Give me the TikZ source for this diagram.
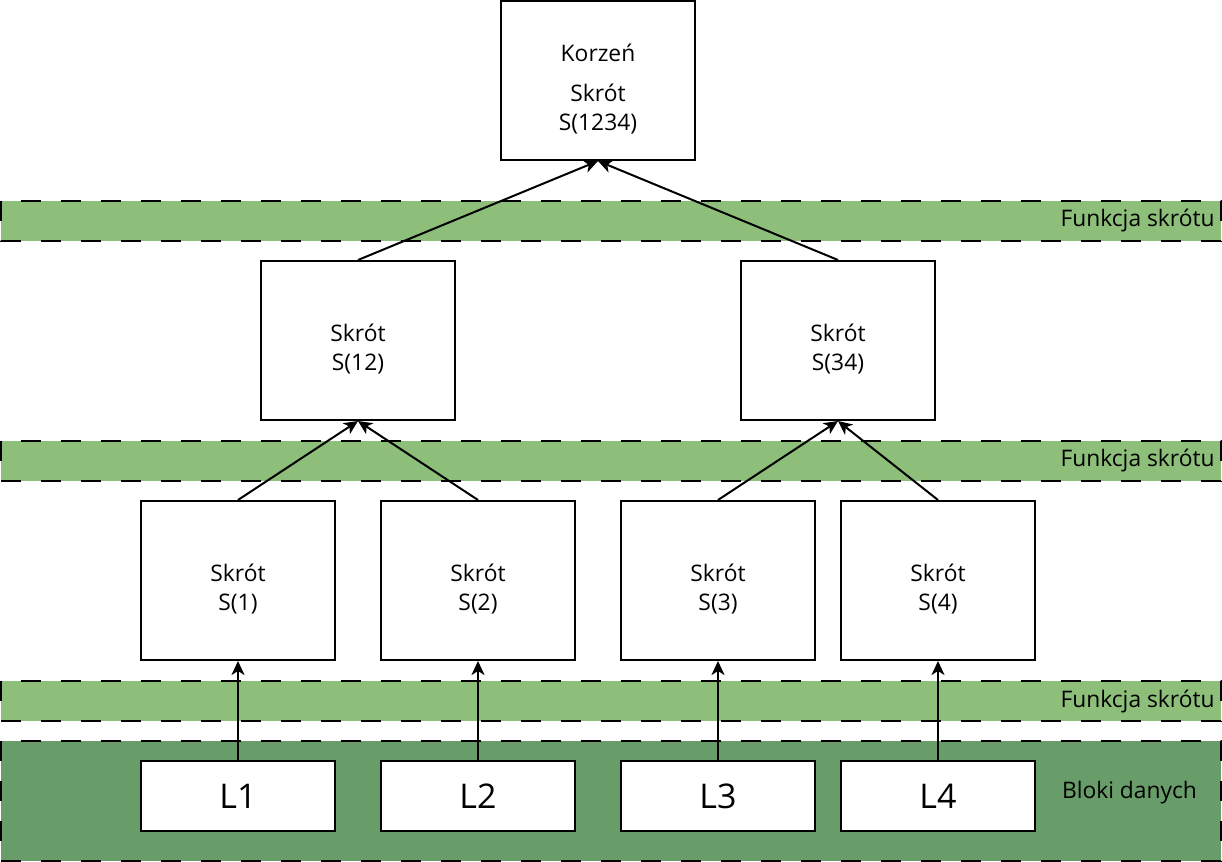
\documentclass[tikz,border=0pt]{standalone}
\usepackage{fontspec}
\setmainfont{Open Sans}
\usetikzlibrary{arrows.meta, positioning}
\definecolor{bandgreen}{HTML}{8DBF7B}
\definecolor{datagreen}{HTML}{689D6A}
\newcommand{\hashtext}[1]{\raisebox{-5pt}[\height][\depth]{\begin{tabular}{@{}c@{}}#1\end{tabular}}}
\tikzstyle{arrow} = [-{Stealth[length=7pt,width=6.5pt,inset=2pt]}, line width=1pt]
\tikzstyle{hashbox} = [draw, rectangle, fill=white, line width=1pt, minimum width=97pt, minimum height=79.5pt, inner sep=0, font=\fontsize{11.4}{14.5}\selectfont]
\tikzstyle{leaf} = [draw, rectangle, fill=white, line width=1pt, minimum width=97pt, minimum height=35pt, font=\fontsize{17}{20}\selectfont]
\tikzstyle{band} = [draw, line width=1pt, dash pattern=on 10pt off 10pt]
\tikzstyle{bandlabel} = [inner sep=0, font=\fontsize{11.4}{14}\selectfont]

\begin{document}
\begin{tikzpicture}[x=0.5pt, y=-0.5pt, on grid]
        \useasboundingbox (0,0) rectangle (1222,862);
        % bands
        \draw [band, fill=bandgreen] (1,201) rectangle (1221,241);
        \draw [band, fill=bandgreen] (1,441) rectangle (1221,481);
        \draw [band, fill=bandgreen] (1,681) rectangle (1221,721);
        \draw [band, fill=datagreen] (1,741) rectangle (1221,861);
        \node [bandlabel, anchor=east] (hashA) at (1215,221) {Funkcja skrótu};
        \node [bandlabel, anchor=east] (hashB) at (1215,461) {Funkcja skrótu};
        \node [bandlabel, anchor=east] (hashC) at (1215,701) {Funkcja skrótu};
        \node [bandlabel] (data) at (1129.5,793) {Bloki danych};

        % tree
        \node [hashbox] (root) at (598,80.5) {\hashtext{Korzeń\\[5.5pt]Skrót\\S(1234)}};
        \node [hashbox, below left=130pt and 120pt of root] (s12) {\hashtext{Skrót\\S(12)}};
        \node [hashbox, below right=130pt and 120pt of root] (s34) {\hashtext{Skrót\\S(34)}};
        \node [hashbox, below left=120pt and 60pt of s12] (s1) {\hashtext{Skrót\\S(1)}};
        \node [hashbox, below right=120pt and 60pt of s12] (s2) {\hashtext{Skrót\\S(2)}};
        \node [hashbox, below left=120pt and 60pt of s34] (s3) {\hashtext{Skrót\\S(3)}};
        \node [hashbox, below right=120pt and 50pt of s34] (s4) {\hashtext{Skrót\\S(4)}};
        \node [leaf, below=107.75pt of s1] (l1) {L1};
        \node [leaf, below=107.75pt of s2] (l2) {L2};
        \node [leaf, below=107.75pt of s3] (l3) {L3};
        \node [leaf, below=107.75pt of s4] (l4) {L4};

        \draw [arrow] (s12.north) -- (root.south);
        \draw [arrow] (s34.north) -- (root.south);
        \draw [arrow] (s1.north) -- (s12.south);
        \draw [arrow] (s2.north) -- (s12.south);
        \draw [arrow] (s3.north) -- (s34.south);
        \draw [arrow] (s4.north) -- (s34.south);
        \draw [arrow] (l1.north) -- (s1.south);
        \draw [arrow] (l2.north) -- (s2.south);
        \draw [arrow] (l3.north) -- (s3.south);
        \draw [arrow] (l4.north) -- (s4.south);
\end{tikzpicture}
\end{document}
